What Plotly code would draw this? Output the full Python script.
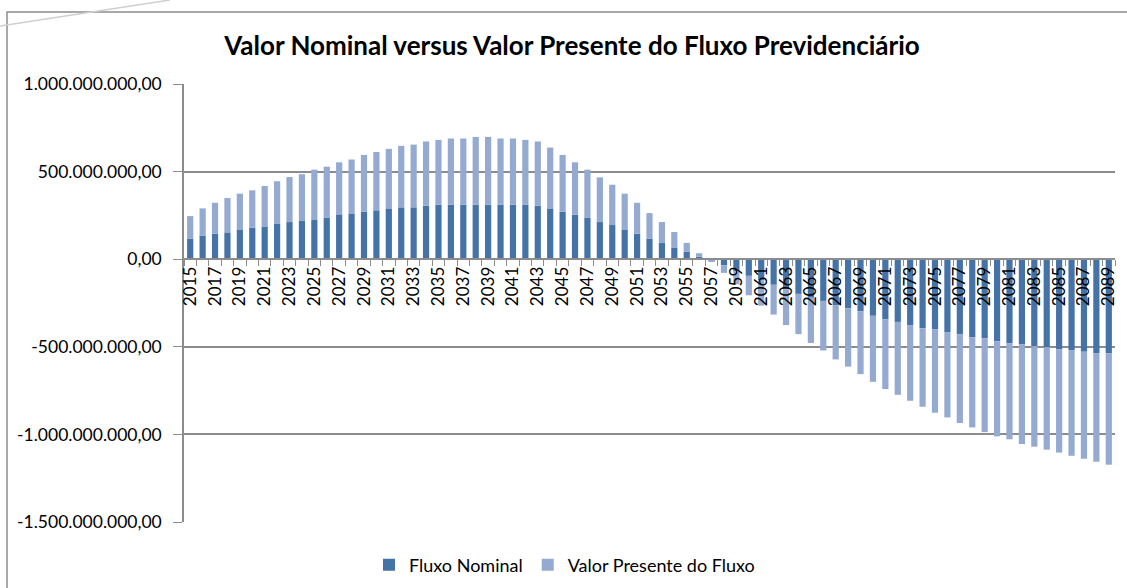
import plotly.graph_objects as go

years = list(range(2015, 2090))

# Fluxo Nominal (millions)
fluxo_nominal = [
    118, 135, 145, 153, 170, 179, 187, 204, 212, 221,
    227, 238, 256, 261, 271, 279, 290, 296, 296, 305,
    311, 311, 311, 311, 311, 311, 311, 311, 305, 290,
    271, 254, 238, 212, 195, 170, 145, 118, 93, 67,
    42, 15,
    -5, -34, -70, -95, -120, -146, -172, -198, -220, -238,
    -262, -280, -297, -323, -343, -358, -376, -394, -399, -416,
    -428, -445, -451, -468, -479, -485, -496, -502, -513, -519,
    -528, -536, -536,
]

# Valor Presente do Fluxo (stacked segment, millions)
valor_presente = [
    128, 155, 177, 196, 204, 214, 231, 241, 257, 264,
    284, 290, 297, 308, 324, 333, 340, 351, 358, 367,
    370, 378, 378, 387, 387, 378, 378, 370, 367, 347,
    324, 299, 273, 255, 230, 204, 177, 145, 119, 88,
    51, 19,
    -10, -44, -73, -111, -145, -170, -204, -230, -258, -283,
    -310, -333, -359, -377, -398, -416, -432, -448, -477, -487,
    -507, -515, -536, -543, -549, -570, -574, -585, -591, -603,
    -611, -620, -637,
]

series_names = ["Fluxo Nominal", "Valor Presente do Fluxo"]
title_text = "Valor Nominal versus Valor Presente do Fluxo Previdenciário"

y_tick_vals = [1e9, 5e8, 0, -5e8, -1e9, -1.5e9]
y_tick_text = ["1.000.000.000,00", "500.000.000,00", "0,00",
               "-500.000.000,00", "-1.000.000.000,00", "-1.500.000.000,00"]
x_label_years = list(range(2015, 2090, 2))

SCALE = 1e6
FONT = "Lato, 'Open Sans', sans-serif"
GRID = "#8c8c8c"

L, R, T, B = 184, 12, 84, 66
PW, PH = 1127 - L - R, 588 - T - B


def px(xp):
    return (xp - L) / PW


def py(yp):
    return (588 - B - yp) / PH


fig = go.Figure()
fig.add_trace(go.Bar(x=years, y=[v * SCALE for v in fluxo_nominal],
                     name=series_names[0], marker=dict(color="#4673A7", line=dict(width=0))))
fig.add_trace(go.Bar(x=years, y=[v * SCALE for v in valor_presente],
                     name=series_names[1], marker=dict(color="#94AAD0", line=dict(width=0))))

ymin, ymax = -1.5e9, 1.0e9
zero_pos = (0 - ymin) / (ymax - ymin)

fig.update_layout(
    barmode="relative",
    bargap=0.5,
    width=1127, height=588,
    margin=dict(l=L, r=R, t=T, b=B, autoexpand=False),
    paper_bgcolor="white", plot_bgcolor="white",
    font=dict(family=FONT, color="black"),
    title=dict(text="<b>" + title_text + "</b>", x=572 / 1127, xanchor="center",
               y=1 - 46 / 588, yanchor="middle", font=dict(size=26, family=FONT)),
    showlegend=True,
    legend=dict(orientation="h", x=px(369), xanchor="left", y=py(565), yanchor="middle",
                font=dict(size=18, family=FONT), itemwidth=30, tracegroupgap=0),
    xaxis=dict(
        range=[2014.5, 2089.5], tickmode="array", tickvals=x_label_years,
        ticktext=[str(y) for y in x_label_years], tickangle=-90,
        ticks="", showgrid=False, zeroline=False,
        showline=True, linecolor=GRID, linewidth=1.5,
        anchor="free", position=zero_pos,
        tickfont=dict(size=17, family=FONT),
        minor=dict(tickmode="linear", tick0=2014.5, dtick=1, ticks="outside",
                   ticklen=6, tickcolor=GRID, showgrid=False),
    ),
    yaxis=dict(
        range=[ymin, ymax], tickmode="array", tickvals=y_tick_vals, ticktext=y_tick_text,
        showgrid=True, gridcolor=GRID, gridwidth=1.5, zeroline=False,
        showline=True, linecolor=GRID, linewidth=1.5,
        ticks="outside", ticklen=9, tickcolor=GRID,
        ticklabelstandoff=8,
        tickfont=dict(size=17.5, family=FONT),
    ),
    shapes=[
        dict(type="rect", xref="paper", yref="paper",
             x0=px(7), x1=px(1200), y0=py(620), y1=py(12),
             line=dict(color="#8c8c8c", width=1.5), layer="below"),
        dict(type="line", xref="paper", yref="paper",
             x0=px(0), y0=py(26), x1=px(170), y1=py(0),
             line=dict(color="#cfcfcf", width=1.5), layer="below"),
    ],
)

fig.write_html("out.html", config={"displayModeBar": False},
               post_script="document.body.style.margin='0';document.body.style.overflow='hidden';")
